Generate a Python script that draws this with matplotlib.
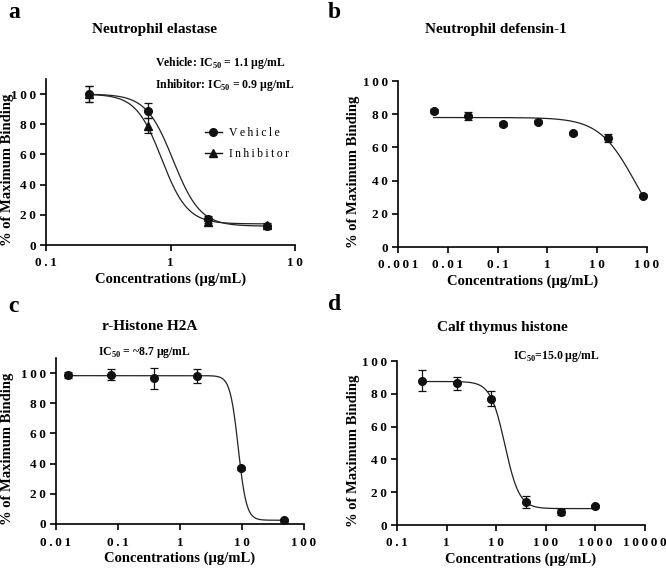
import numpy as np
import matplotlib
matplotlib.use("Agg")
import matplotlib.pyplot as plt
from matplotlib.ticker import FixedLocator, FuncFormatter, NullLocator
from matplotlib.lines import Line2D

plt.rcParams['font.family'] = ['Liberation Serif', 'DejaVu Serif']
plt.rcParams['mathtext.fontset'] = 'custom'
plt.rcParams['mathtext.rm'] = 'Liberation Serif'
plt.rcParams['mathtext.bf'] = 'Liberation Serif:bold'

# ---------------- data ----------------
# Panel a: Neutrophil elastase
a_x = [0.22, 0.66, 2.0, 6.0]
a_veh = [100, 89, 17.5, 12.5]
a_veh_err = [5.5, 5, 1.5, 1]
a_inh = [100, 79, 15.5, 13.5]
a_inh_err = [5.5, 5, 1, 1]
a_veh_fit = dict(top=100, bottom=12.5, ic50=1.05, hill=4.0)
a_inh_fit = dict(top=100, bottom=14.0, ic50=0.85, hill=4.2)

# Panel b: Neutrophil defensin-1
b_x = [0.0052, 0.026, 0.13, 0.66, 3.3, 16.5, 82]
b_y = [82, 79, 74, 75.5, 68.5, 65.5, 31]
b_err = [1, 2.5, 1, 1, 1, 2.5, 1]
b_fit = dict(top=78, bottom=0, ic50=58, hill=1.2)

# Panel c: r-Histone H2A
c_x = [0.0155, 0.076, 0.38, 1.9, 9.5, 48]
c_y = [98.5, 99, 96.5, 98, 37, 2.5]
c_err = [2, 3.5, 7, 4.5, 1, 1]
c_fit = dict(top=98.3, bottom=2.5, ic50=8.7, hill=6.6)

# Panel d: Calf thymus histone
d_x = [0.32, 1.6, 8, 40, 200, 1000]
d_y = [88, 86.5, 77, 14, 8, 11.5]
d_err = [6.5, 4, 4.5, 3.5, 2, 1]
d_fit = dict(top=87.5, bottom=10, ic50=15, hill=3.0)

y_ticks = [0, 20, 40, 60, 80, 100]
a_xticks = [0.1, 1, 10]
b_xticks = [0.001, 0.01, 0.1, 1, 10, 100]
c_xticks = [0.01, 0.1, 1, 10, 100]
d_xticks = [0.1, 1, 10, 100, 1000, 10000]


def four_pl(x, top, bottom, ic50, hill):
    return bottom + (top - bottom) / (1 + (x / ic50) ** hill)


def spaced(s):
    return '\u2009'.join(s)


def fmt_num(v, pos=None):
    if v >= 1 or v == 0:
        s = '%d' % round(v)
    else:
        s = ('%.4f' % v).rstrip('0')
    return spaced(s)


fig = plt.figure(figsize=(6.66, 5.70), dpi=100)

W, H = 666, 570


def add_ax(l, r, t, b):
    return fig.add_axes([l / W, 1 - b / H, (r - l) / W, (b - t) / H])


ax_a = add_ax(46, 295, 79, 245)
ax_b = add_ax(398, 647, 81, 247)
ax_c = add_ax(56, 304, 358, 524)
ax_d = add_ax(397, 645, 361, 525)


def style(ax, xticks, xlim, ylim, ylab_px):
    ax.set_xscale('log')
    ax.set_xlim(*xlim)
    ax.set_ylim(*ylim)
    for s in ['top', 'right']:
        ax.spines[s].set_visible(False)
    for s in ['left', 'bottom']:
        ax.spines[s].set_linewidth(1.2)
    ax.xaxis.set_major_locator(FixedLocator(xticks))
    ax.xaxis.set_minor_locator(NullLocator())
    ax.xaxis.set_major_formatter(FuncFormatter(fmt_num))
    ax.yaxis.set_major_locator(FixedLocator(y_ticks))
    ax.yaxis.set_major_formatter(FuncFormatter(fmt_num))
    ax.tick_params(axis='both', which='major', length=4, width=1.2,
                   labelsize=9.5)
    ax.tick_params(axis='x', pad=5)
    ax.tick_params(axis='y', pad=3)
    for lab in ax.get_xticklabels() + ax.get_yticklabels():
        lab.set_fontweight('bold')
    ax.set_ylabel('% of Maximum Binding', fontsize=10.5, fontweight='bold',
                  va='center', ha='center')
    bbox = ax.get_position()
    left_px = bbox.x0 * W
    width_px = bbox.width * W
    ax.yaxis.set_label_coords((ylab_px - left_px) / width_px, 0.45)
    ax.set_xlabel('Concentrations (\u00b5g/mL)', fontsize=10.5,
                  fontweight='bold', labelpad=2)


def plot_curve(ax, xs, fit, **kw):
    xx = np.logspace(np.log10(min(xs)), np.log10(max(xs)), 300)
    ax.plot(xx, four_pl(xx, **fit), color='#222222', lw=0.9, **kw)


def plot_pts(ax, xs, ys, errs, marker='o', ms=5.5):
    ax.errorbar(xs, ys, yerr=errs, fmt=marker, color='#111111', ms=ms,
                capsize=3, elinewidth=0.9, capthick=0.9, zorder=3)


# Panel a
style(ax_a, a_xticks, (0.1, 10), (0, 110), 8)
plot_curve(ax_a, a_x, a_veh_fit)
plot_curve(ax_a, a_x, a_inh_fit)
plot_pts(ax_a, a_x, a_inh, a_inh_err, marker='^', ms=5.5)
plot_pts(ax_a, a_x, a_veh, a_veh_err, marker='o')
handles = [Line2D([], [], color='#111111', marker='o', ms=5.5, lw=1),
           Line2D([], [], color='#111111', marker='^', ms=5.5, lw=1)]
ax_a.legend(handles, [spaced('Vehicle'), spaced('Inhibitor')], frameon=False,
            loc='upper left', bbox_to_anchor=(0.62, 0.74), fontsize=8.5,
            handlelength=1.4, handletextpad=0.6, labelspacing=0.8,
            borderaxespad=0)

# Panel b
style(ax_b, b_xticks, (0.001, 100), (0, 100), 354)
plot_curve(ax_b, b_x, b_fit)
plot_pts(ax_b, b_x, b_y, b_err)

# Panel c
style(ax_c, c_xticks, (0.01, 100), (0, 110), 8)
plot_curve(ax_c, c_x, c_fit)
plot_pts(ax_c, c_x, c_y, c_err)

# Panel d
style(ax_d, d_xticks, (0.1, 10000), (0, 100), 354)
plot_curve(ax_d, d_x, d_fit)
plot_pts(ax_d, d_x, d_y, d_err)


# Titles, panel letters, annotations (figure pixel coordinates)
def ftext(x, y, s, **kw):
    fig.text(x / W, 1 - y / H, s, **kw)


title_kw = dict(fontsize=11, fontweight='bold', ha='center', va='center')
ftext(155, 29, 'Neutrophil elastase', **title_kw)
ftext(496, 29, 'Neutrophil defensin-1', **title_kw)
ftext(150, 327, 'r-Histone H2A', **title_kw)
ftext(502, 328, 'Calf thymus histone', **title_kw)

letter_kw = dict(fontsize=17, fontweight='bold', ha='left', va='center')
ftext(8, 12, 'a', **letter_kw)
ftext(328, 12, 'b', **letter_kw)
ftext(8, 306, 'c', **letter_kw)
ftext(328, 304, 'd', **letter_kw)

MU = '\u00b5'
ann_kw = dict(fontsize=8.5, fontweight='bold', va='center')
ftext(155, 63, 'Vehicle: IC$_{\\mathbf{50}}$ = 1.1 ' + MU + 'g/mL',
      ha='left', **ann_kw)
ftext(155, 85, 'Inhibitor: IC$_{\\mathbf{50}}$ = 0.9 ' + MU + 'g/mL',
      ha='left', **ann_kw)
ftext(144, 353, 'IC$_{\\mathbf{50}}$ = ~8.7 ' + MU + 'g/mL',
      ha='center', **ann_kw)
ftext(556, 357, 'IC$_{\\mathbf{50}}$=15.0 ' + MU + 'g/mL',
      ha='center', **ann_kw)

fig.savefig('out.png', dpi=100)
